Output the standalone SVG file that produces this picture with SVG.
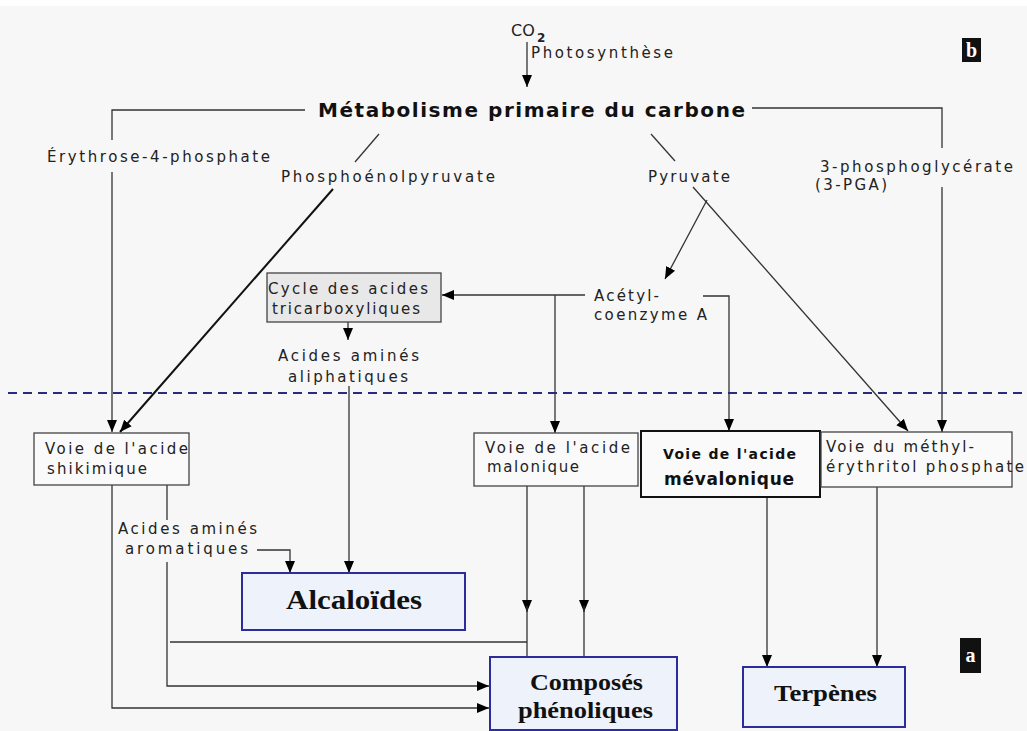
<svg xmlns="http://www.w3.org/2000/svg" width="1027" height="731" viewBox="0 0 1027 731">
<defs>
<marker id="ah" markerUnits="userSpaceOnUse" markerWidth="12" markerHeight="12" viewBox="0 0 12 12" refX="12" refY="6" orient="auto">
<path d="M0,1 L12,6 L0,11 z" fill="#000"/>
</marker>
<style>
.t{font-family:"DejaVu Sans","Liberation Sans",sans-serif;font-size:15px;fill:#222}
.tb{font-family:"DejaVu Sans","Liberation Sans",sans-serif;font-weight:bold;fill:#111}
.s{font-family:"Liberation Serif","DejaVu Serif",serif;font-weight:bold;fill:#111}
.ln{stroke:#333;stroke-width:1.3;fill:none}
.lt{stroke:#111;stroke-width:2;fill:none}
.box{fill:#fafafa;stroke:#444;stroke-width:1.3}
.bbox{fill:#eef2fa;stroke:#2c2c9c;stroke-width:2}
.lab{fill:#111}
.labt{font-family:"Liberation Serif",serif;font-weight:bold;font-size:20px;fill:#fff;text-anchor:middle}
</style>
</defs>
<rect x="0" y="0" width="1027" height="731" fill="#f7f7f7"/>
<rect x="0" y="0" width="1027" height="6" fill="#fff"/>

<g id="connectors">
<line class="ln" x1="527" y1="42" x2="527" y2="87" marker-end="url(#ah)"/>
<polyline class="ln" points="305,110 112,110 112,140"/>
<line class="ln" x1="112" y1="172" x2="112" y2="432" marker-end="url(#ah)"/>
<polyline class="ln" points="752,108 942,108 942,148"/>
<line class="ln" x1="942" y1="187" x2="942" y2="432" marker-end="url(#ah)"/>
<line class="ln" x1="379" y1="134" x2="355" y2="162"/>
<line class="lt" x1="333" y1="189" x2="120" y2="432" marker-end="url(#ah)"/>
<line class="ln" x1="651" y1="134" x2="675" y2="161"/>
<line class="ln" x1="693" y1="187" x2="908" y2="431" marker-end="url(#ah)"/>
<line class="ln" x1="707" y1="200" x2="665" y2="279" marker-end="url(#ah)"/>
<line class="ln" x1="585" y1="295" x2="442" y2="295" marker-end="url(#ah)"/>
<line class="ln" x1="555" y1="295" x2="555" y2="433" marker-end="url(#ah)"/>
<polyline class="ln" points="703,296 729,296 729,431" marker-end="url(#ah)"/>
<line class="ln" x1="348" y1="322" x2="348" y2="340" marker-end="url(#ah)"/>
<line class="ln" x1="349" y1="386" x2="349" y2="573" marker-end="url(#ah)"/>
<line x1="8" y1="393" x2="1027" y2="393" stroke="#2a2a80" stroke-width="2" stroke-dasharray="9,6"/>
<polyline class="ln" points="112,485 112,708 489,708" marker-end="url(#ah)"/>
<line class="ln" x1="167" y1="485" x2="167" y2="520"/>
<polyline class="ln" points="167,562 167,686 489,686" marker-end="url(#ah)"/>
<polyline class="ln" points="257,550 290,550 290,573" marker-end="url(#ah)"/>
<line class="ln" x1="170" y1="642" x2="527" y2="642"/>
<line class="ln" x1="527" y1="486" x2="527" y2="612" marker-end="url(#ah)"/>
<line class="ln" x1="527" y1="606" x2="527" y2="657"/>
<line class="ln" x1="584" y1="486" x2="584" y2="612" marker-end="url(#ah)"/>
<line class="ln" x1="584" y1="606" x2="584" y2="657"/>
<line class="ln" x1="767" y1="497" x2="767" y2="667" marker-end="url(#ah)"/>
<line class="ln" x1="877" y1="487" x2="877" y2="667" marker-end="url(#ah)"/>
</g>

<g id="co2">
<text class="t" x="511" y="36" style="font-size:16px">CO</text>
<text class="t" x="537" y="42" style="font-size:12px;font-weight:bold">2</text>
<text class="t" x="531" y="58" textLength="142" lengthAdjust="spacing">Photosynthèse</text>
</g>
<g id="label-b">
<rect class="lab" x="962" y="38" width="19" height="24"/>
<text class="labt" x="971.5" y="57">b</text>
</g>
<g id="metabolisme">
<text class="tb" x="318" y="117" font-size="20" textLength="427" lengthAdjust="spacing">Métabolisme primaire du carbone</text>
</g>
<g id="erythrose">
<text class="t" x="47" y="162" textLength="223" lengthAdjust="spacing">Érythrose-4-phosphate</text>
</g>
<g id="pep">
<text class="t" x="281" y="182" textLength="214" lengthAdjust="spacing">Phosphoénolpyruvate</text>
</g>
<g id="pyruvate">
<text class="t" x="648" y="182" textLength="82" lengthAdjust="spacing">Pyruvate</text>
</g>
<g id="pga">
<text class="t" x="820" y="172" textLength="193" lengthAdjust="spacing">3-phosphoglycérate</text>
<text class="t" x="815" y="190" textLength="72" lengthAdjust="spacing">(3-PGA)</text>
</g>
<g id="acetyl">
<text class="t" x="594" y="301" textLength="65" lengthAdjust="spacing">Acétyl-</text>
<text class="t" x="594" y="320" textLength="113" lengthAdjust="spacing">coenzyme A</text>
</g>
<g id="cycle">
<rect x="267" y="273" width="174" height="49" fill="#e8e8e8" stroke="#444" stroke-width="1.3"/>
<text class="t" x="268" y="294" textLength="160" lengthAdjust="spacing">Cycle des acides</text>
<text class="t" x="272" y="314" textLength="148" lengthAdjust="spacing">tricarboxyliques</text>
</g>
<g id="aliphatiques">
<text class="t" x="278" y="361" textLength="141" lengthAdjust="spacing">Acides aminés</text>
<text class="t" x="288" y="382" textLength="120" lengthAdjust="spacing">aliphatiques</text>
</g>
<g id="shikimique">
<rect class="box" x="34" y="433" width="155" height="52"/>
<text class="t" x="45" y="454" textLength="143" lengthAdjust="spacing">Voie de l'acide</text>
<text class="t" x="47" y="474" textLength="100" lengthAdjust="spacing">shikimique</text>
</g>
<g id="aromatiques">
<text class="t" x="118" y="534" textLength="139" lengthAdjust="spacing">Acides aminés</text>
<text class="t" x="125" y="554" textLength="123" lengthAdjust="spacing">aromatiques</text>
</g>
<g id="malonique">
<rect class="box" x="474" y="433" width="164" height="53"/>
<text class="t" x="485" y="453" textLength="145" lengthAdjust="spacing">Voie de l'acide</text>
<text class="t" x="487" y="472" textLength="92" lengthAdjust="spacing">malonique</text>
</g>
<g id="mevalonique">
<rect x="641" y="431" width="179" height="66" fill="#fafafa" stroke="#111" stroke-width="2"/>
<text class="tb" x="663" y="459" font-size="14" textLength="133" lengthAdjust="spacing">Voie de l'acide</text>
<text class="tb" x="664" y="485" font-size="17" textLength="130" lengthAdjust="spacing">mévalonique</text>
</g>
<g id="mep">
<rect class="box" x="821" y="432" width="191" height="55"/>
<text class="t" x="826" y="452" textLength="148" lengthAdjust="spacing">Voie du méthyl-</text>
<text class="t" x="826" y="472" textLength="198" lengthAdjust="spacing">érythritol phosphate</text>
</g>
<g id="alcaloides">
<rect class="bbox" x="242" y="573" width="223" height="57"/>
<text class="s" x="286" y="609" font-size="28" textLength="136" lengthAdjust="spacingAndGlyphs">Alcaloïdes</text>
</g>
<g id="composes">
<rect class="bbox" x="490" y="657" width="187" height="73"/>
<text class="s" x="530" y="690" font-size="24" textLength="113" lengthAdjust="spacingAndGlyphs">Composés</text>
<text class="s" x="518" y="718" font-size="24" textLength="135" lengthAdjust="spacingAndGlyphs">phénoliques</text>
</g>
<g id="terpenes">
<rect class="bbox" x="743" y="667" width="162" height="60"/>
<text class="s" x="774" y="701" font-size="24" textLength="103" lengthAdjust="spacingAndGlyphs">Terpènes</text>
</g>
<g id="label-a">
<rect class="lab" x="960" y="638" width="21" height="35"/>
<text class="labt" x="970.5" y="662">a</text>
</g>
</svg>
